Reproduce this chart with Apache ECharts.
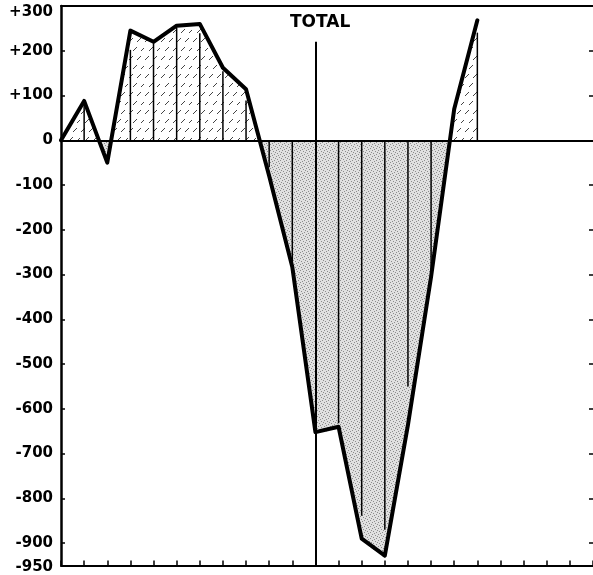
<!DOCTYPE html>
<html>
<head>
<meta charset="utf-8">
<title>TOTAL</title>
<script src="https://cdn.jsdelivr.net/npm/echarts@6/dist/echarts.min.js"></script>
<style>
  html, body { margin: 0; padding: 0; background: #fff; }
  #chart { width: 593px; height: 575px; }
</style>
</head>
<body>
<div id="chart"></div>
<script>
  // data
  const periods = ['1', '2', '3', '4', '5', '6', '7', '8', '9', '10', '11', '12',
    '13', '14', '15', '16', '17', '18', '19', '20', '21', '22', '23', '24']
  const values = [0, 88, -50, 245, 220, 256, 260, 162, 114, -80, -283, -652,
    -640, -890, -928, -636, -305, 70, 268]
  // the thin upright strokes inside the shaded areas
  const dividers = [null, 78, null, 202, 217, 252, 239, 154, 89, -60, -276, null,
    -632, -839, -870, -550, -294, null, 240]
  const yTicks = [300, 200, 100, 0, -100, -200, -300, -400, -500, -600, -700, -800, -900, -950]
  const totalIndex = 11
  const totalTop = 220

  const FONT = 'DejaVu Sans'

  // hatch (/ / /) for the part above zero
  function hatchPattern() {
    const c = document.createElement('canvas')
    c.width = 16
    c.height = 18
    const ctx = c.getContext('2d')
    ctx.strokeStyle = '#444'
    ctx.lineWidth = 1
    ctx.beginPath()
    ;[[1, 6], [9, 6], [5, 15], [13, 15]].forEach(function (p) {
      ctx.moveTo(p[0], p[1])
      ctx.lineTo(p[0] + 4, p[1] - 4)
    })
    ctx.stroke()
    return c
  }

  // grey stipple for the part below zero
  function stipplePattern() {
    const c = document.createElement('canvas')
    c.width = 6
    c.height = 6
    const ctx = c.getContext('2d')
    ctx.fillStyle = '#e0e0e0'
    ctx.fillRect(0, 0, 6, 6)
    ctx.fillStyle = '#8c8c8c'
    const dots = [[0, 0], [3, 1], [1, 3], [4, 4], [5, 2], [2, 5]]
    dots.forEach(function (d) { ctx.fillRect(d[0], d[1], 1, 1) })
    return c
  }

  const chart = echarts.init(document.getElementById('chart'))

  const TOP = 6
  const BOTTOM = 7
  const plotH = 575 - TOP - BOTTOM
  const zeroY = TOP + plotH * 300 / 1250

  const hiddenX = function (grid) {
    return {
      type: 'category', gridIndex: grid, data: periods, boundaryGap: false,
      show: false
    }
  }

  chart.setOption({
    animation: false,
    title: {
      text: 'TOTAL',
      left: 290,
      top: 14,
      padding: 0,
      textStyle: { fontFamily: FONT, fontWeight: 'bold', fontSize: 17, color: '#000' }
    },
    grid: [
      { left: 61, right: -2, top: TOP, bottom: BOTTOM },
      { left: 61, right: -2, top: TOP, height: zeroY - TOP },
      { left: 61, right: -2, top: zeroY, bottom: BOTTOM }
    ],
    xAxis: [
      {
        type: 'category', gridIndex: 0, data: periods, boundaryGap: false,
        axisLine: { onZero: false, lineStyle: { color: '#000', width: 2 } },
        axisTick: { inside: true, length: 5, interval: 0, lineStyle: { color: '#000', width: 1.5 } },
        axisLabel: { show: false },
        splitLine: { show: false }
      },
      {
        type: 'category', gridIndex: 0, data: periods, boundaryGap: false, position: 'top',
        axisLine: { onZero: false, lineStyle: { color: '#000', width: 2 } },
        axisTick: { show: false },
        axisLabel: { show: false }
      },
      hiddenX(1),
      hiddenX(2)
    ],
    yAxis: [
      {
        type: 'value', gridIndex: 0, min: -950, max: 300,
        axisLine: { show: true, onZero: false, lineStyle: { color: '#000', width: 2.5 } },
        axisTick: { show: true, inside: true, length: 4, customValues: yTicks, lineStyle: { color: '#000', width: 1.5 } },
        axisLabel: {
          customValues: yTicks,
          margin: 8,
          fontFamily: FONT,
          fontWeight: 'bold',
          fontSize: 15,
          color: '#000',
          formatter: function (v) {
            const s = v > 0 ? '+' + v : String(v)
            if (v === 300) return '{top|' + s + '}'
            if (v === -950) return '{bot|' + s + '}'
            return s
          },
          rich: {
            top: { fontFamily: FONT, fontWeight: 'bold', fontSize: 15, color: '#000', padding: [12, 0, 0, 0] },
            bot: { fontFamily: FONT, fontWeight: 'bold', fontSize: 15, color: '#000', padding: [4, 0, 0, 0] }
          }
        },
        splitLine: { show: false }
      },
      {
        type: 'value', gridIndex: 0, min: -950, max: 300, position: 'right',
        axisLine: { show: false, onZero: false },
        axisTick: { show: true, inside: true, length: 4, customValues: yTicks.slice(1, 13), lineStyle: { color: '#000', width: 1.5 } },
        axisLabel: { show: false },
        splitLine: { show: false }
      },
      { type: 'value', gridIndex: 1, min: 0, max: 300, show: false, splitLine: { show: false } },
      { type: 'value', gridIndex: 2, min: -950, max: 0, show: false, splitLine: { show: false } }
    ],
    series: [
      {
        // hatched fill above zero
        type: 'line', xAxisIndex: 2, yAxisIndex: 2, data: values,
        showSymbol: false, clip: true, z: 1, silent: true,
        lineStyle: { width: 0 },
        areaStyle: { origin: 'start', color: { image: hatchPattern(), repeat: 'repeat' }, opacity: 1 }
      },
      {
        // stippled fill below zero
        type: 'line', xAxisIndex: 3, yAxisIndex: 3, data: values,
        showSymbol: false, clip: true, z: 1, silent: true,
        lineStyle: { width: 0 },
        areaStyle: { origin: 'end', color: { image: stipplePattern(), repeat: 'repeat' }, opacity: 1 }
      },
      {
        type: 'bar', xAxisIndex: 0, yAxisIndex: 0, data: dividers,
        barWidth: 1.5, z: 3, silent: true,
        itemStyle: { color: '#000' }
      },
      {
        type: 'line', xAxisIndex: 0, yAxisIndex: 0, data: values,
        showSymbol: false, z: 5, silent: true,
        lineStyle: { color: '#000', width: 4, join: 'round', cap: 'round' },
        markLine: {
          silent: true,
          symbol: 'none',
          label: { show: false },
          lineStyle: { color: '#000', type: 'solid', width: 2 },
          data: [
            { yAxis: 0 },
            [{ coord: [periods[totalIndex], totalTop] }, { coord: [periods[totalIndex], -950] }]
          ]
        }
      }
    ]
  })
</script>
</body>
</html>
